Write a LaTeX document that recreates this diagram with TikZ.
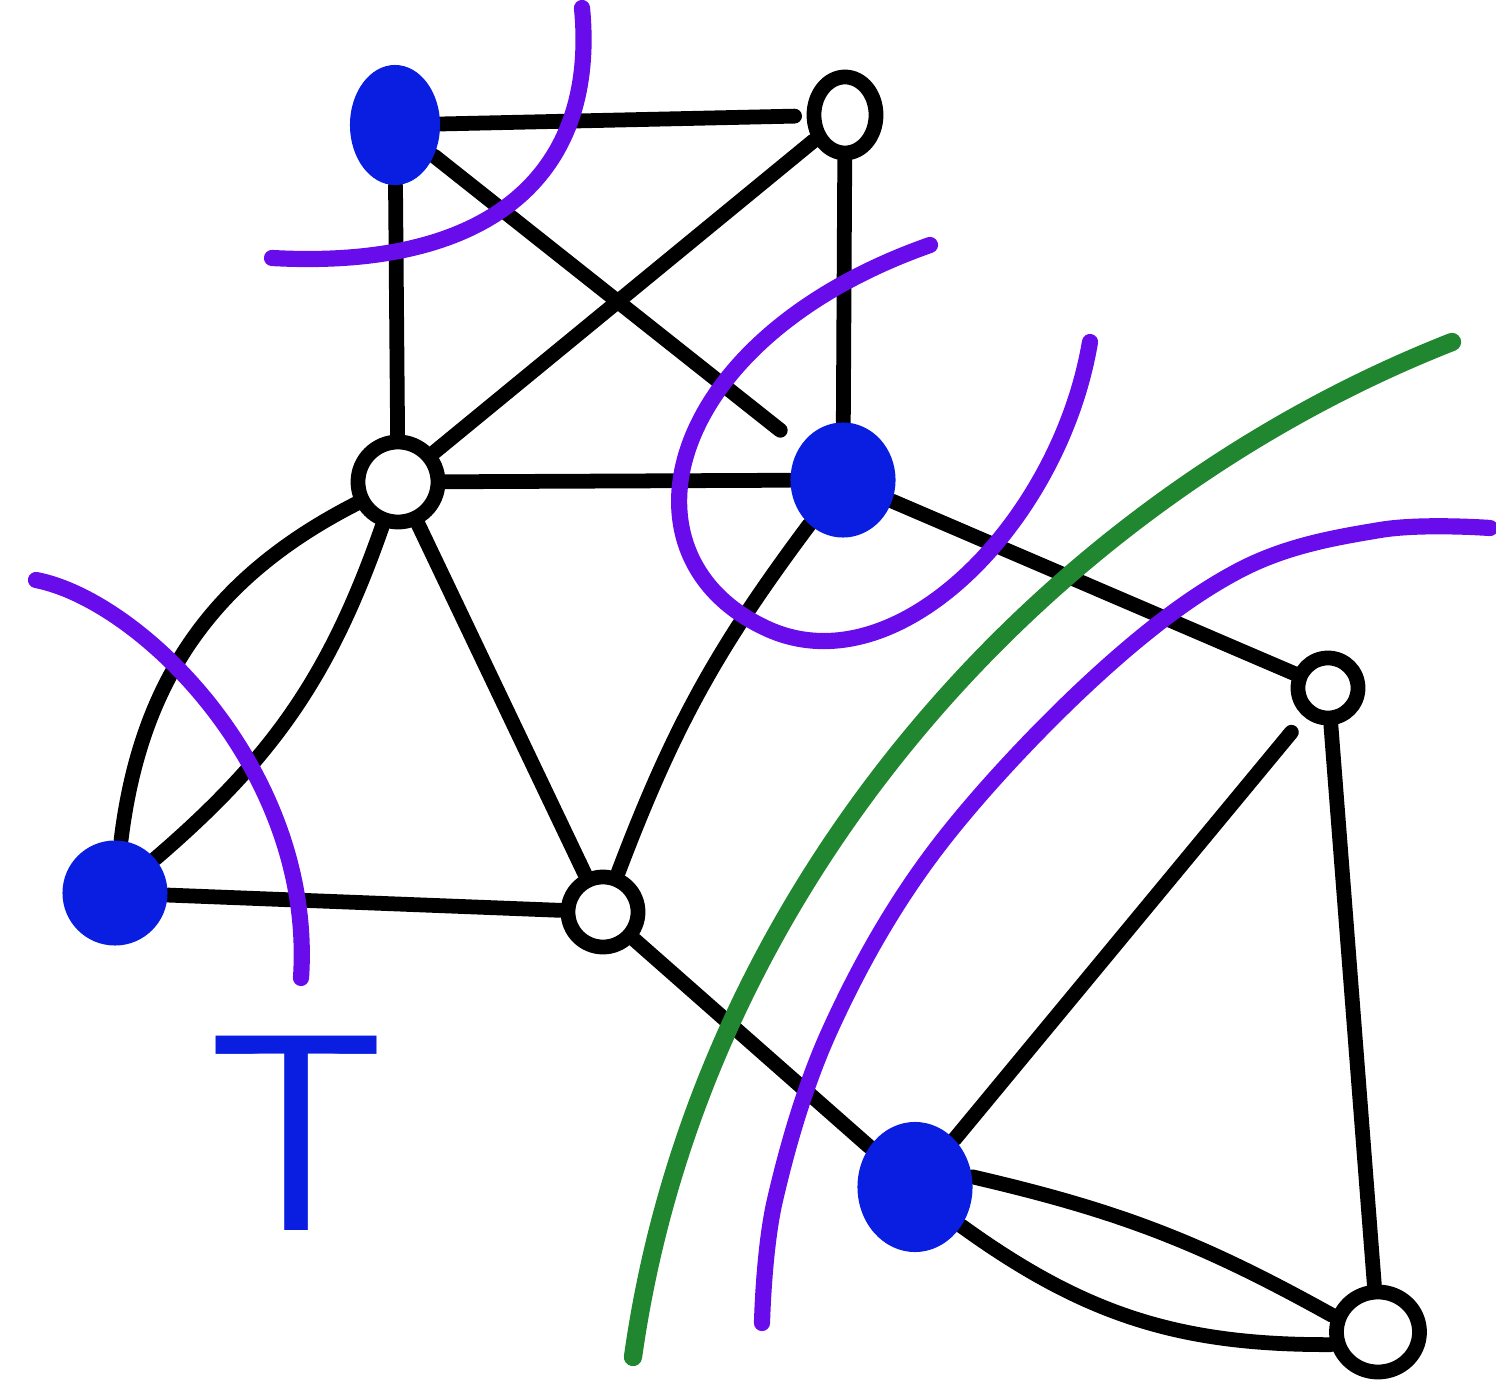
\documentclass[tikz,border=0pt]{standalone}
\usetikzlibrary{shapes.geometric, backgrounds}
\definecolor{termblue}{RGB}{10,30,225}
\definecolor{cutviolet}{RGB}{105,12,235}
\definecolor{cutgreen}{RGB}{32,135,48}

\begin{document}
\begin{tikzpicture}[
  x=0.01cm, y=-0.01cm,
  every node/.style={ellipse, inner sep=0pt},
  terminal/.style={fill=termblue},
  vertex/.style={draw, fill=white, line width=4.2pt},
  edge/.style={draw, line width=4.2pt, line cap=round},
  cut/.style={draw=cutviolet, line width=4.6pt, line cap=round},
  greencut/.style={draw=cutgreen, line width=5.2pt, line cap=round}
  ]
\useasboundingbox (0,0) rectangle (1496,1394);

% 정점
\node[terminal, minimum width=9mm, minimum height=12mm] (a) at (395,125) {};
\node[vertex, minimum width=6.2mm, minimum height=7.6mm] (b) at (845,115) {};
\node[vertex, minimum width=8mm, minimum height=8mm] (c) at (398,482) {};
\node[terminal, minimum width=10.5mm, minimum height=11.5mm] (d) at (843,480) {};
\node[terminal, minimum width=10.5mm, minimum height=10.5mm] (e) at (115,893) {};
\node[vertex, minimum width=7mm, minimum height=7mm] (f) at (603,912) {};
\node[vertex, minimum width=6mm, minimum height=6mm] (g) at (1328,688) {};
\node[terminal, minimum width=11.5mm, minimum height=13mm] (h) at (915,1187) {};
\node[vertex, minimum width=8.3mm, minimum height=8mm] (i) at (1378,1332) {};

% 간선
\begin{scope}[on background layer]
\path[edge, shorten >=1.2mm] (a) -- (b);
\path[edge] (a) -- (c);
\path[edge, shorten >=2.5mm] (a) -- (d);
\path[edge] (c) -- (b);
\path[edge] (b) -- (d);
\path[edge] (c) -- (d);
\path[edge] (c) to[bend right=28] (e);
\path[edge] (c) to[bend left=15] (e);
\path[edge] (c) -- (f);
\path[edge] (d) to[bend right=8] (f);
\path[edge] (e) -- (f);
\path[edge] (d) -- (g);
\path[edge] (f) -- (h);
\path[edge, shorten >=2mm] (h) -- (g);
\path[edge] (g) -- (i);
\path[edge] (h.10) to[bend left=8] (i.160);
\path[edge] (h.-40) to[bend right=18] (i.195);
\end{scope}

% 컷
\draw[cut] (582,8) .. controls (598,175) and (490,270) .. (272,258);
\draw[cut] (930,245) .. controls (660,340) and (610,560) .. (770,630)
  .. controls (900,686) and (1060,520) .. (1090,342);
\draw[cut] (36,580) .. controls (140,600) and (315,770) .. (301,978);
\draw[cut] plot[smooth, tension=0.6] coordinates {(1490,528) (1380,530) (1240,570)
  (1092,680) (933,853) (830,1030) (775,1200) (762,1323)};
\draw[greencut] (1452,342) .. controls (1050,500) and (700,880) .. (633,1357);

\node[rectangle, anchor=north, text=termblue, font=\sffamily\fontsize{80}{80}\selectfont]
  (tlabel) at (297,1035) {T};

\end{tikzpicture}
\end{document}
